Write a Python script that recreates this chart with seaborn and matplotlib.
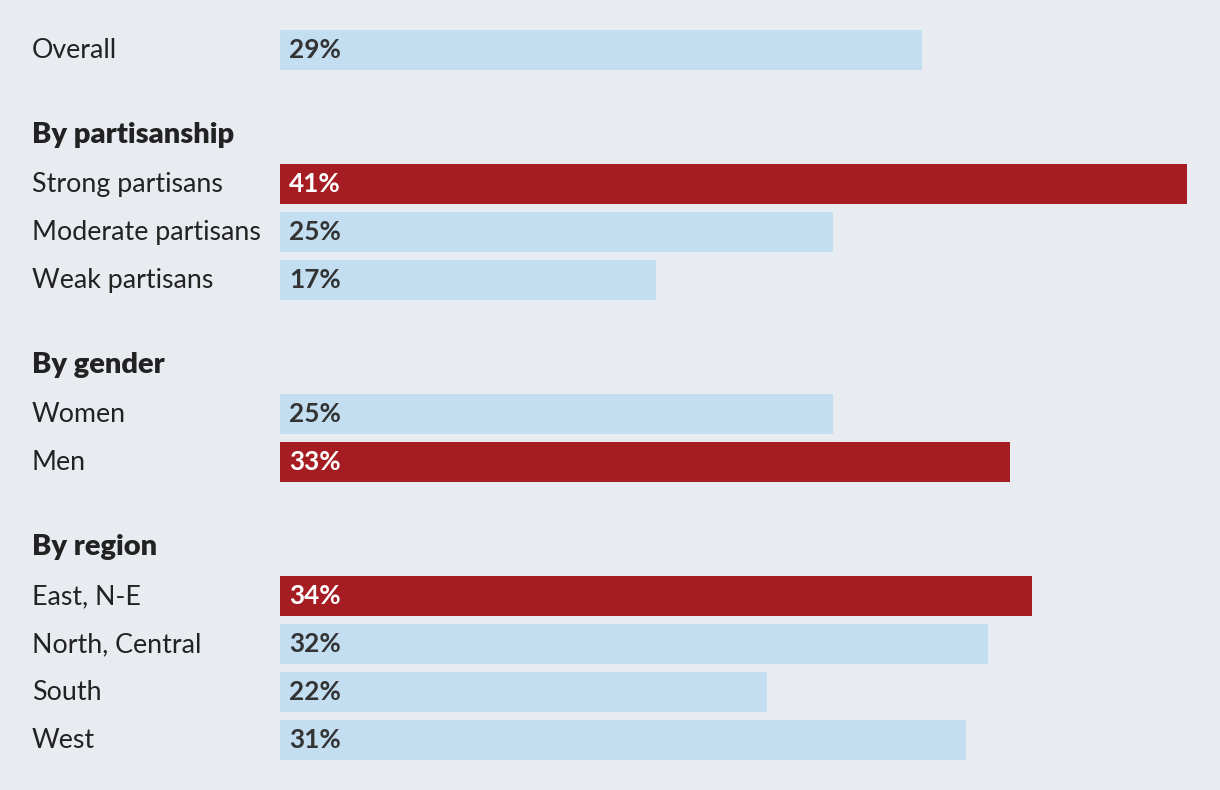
import matplotlib
matplotlib.use("Agg")
import matplotlib.pyplot as plt
import seaborn as sns
import pandas as pd

# ---- data ----
groups = ["", "By partisanship", "By gender", "By region"]
group_members = [
    ["Overall"],
    ["Strong partisans", "Moderate partisans", "Weak partisans"],
    ["Women", "Men"],
    ["East, N-E", "North, Central", "South", "West"],
]
group_values = [
    [29],
    [41, 25, 17],
    [25, 33],
    [34, 32, 22, 31],
]
group_highlight = [
    [False],
    [True, False, False],
    [False, True],
    [True, False, False, False],
]

# ---- style ----
BG = "#e8ebf0"
BLUE = "#c3def0"
RED = "#a51d23"
TXT = "#222222"
VAL_DARK = "#333333"

W, H = 1220, 790
PX_PER_PCT = 22.13
X0 = 280            # pixel where 0% lies
LABEL_X = 32
ROW = 48
GAP = 85

# layout (pixel rows from top)
rows = []
headers = []
y = 50
for gi, (g, mem, vals, hl) in enumerate(zip(groups, group_members, group_values, group_highlight)):
    if g:
        y += GAP
        headers.append((g, y))
        y += ROW + 1
    for j, (m, v, h) in enumerate(zip(mem, vals, hl)):
        if j > 0:
            y += ROW
        rows.append(dict(label=m, value=v, hl="hi" if h else "lo", ypos=y))

df = pd.DataFrame(rows)

sns.set_theme(style="white")
plt.rcParams["font.family"] = ["Lato", "DejaVu Sans"]

fig = plt.figure(figsize=(W / 100, H / 100), dpi=100, facecolor=BG)
ax = fig.add_axes([0, 0, 1, 1])
ax.set_facecolor(BG)

sns.barplot(data=df, x="value", y="ypos", hue="hl", orient="h",
            native_scale=True, dodge=False, width=40 / ROW,
            palette={"hi": RED, "lo": BLUE}, legend=False, ax=ax,
            saturation=1, linewidth=0)

ax.set_xlim(-X0 / PX_PER_PCT, (W - X0) / PX_PER_PCT)
ax.set_ylim(H, 0)
ax.axis("off")

lx = (LABEL_X - X0) / PX_PER_PCT
vx = 9 / PX_PER_PCT
DY = -2
for _, r in df.iterrows():
    ax.text(lx, r["ypos"] + DY, r["label"], ha="left", va="center_baseline",
            fontsize=19.3, color=TXT, fontweight="normal")
    ax.text(vx, r["ypos"] + DY, f"{r['value']}%", ha="left", va="center_baseline",
            fontsize=18.8, fontweight="bold",
            color="white" if r["hl"] == "hi" else VAL_DARK)
for g, yy in headers:
    ax.text(lx, yy + DY, g, ha="left", va="center_baseline",
            fontsize=21, fontweight="heavy", color=TXT)

fig.savefig("out.png", dpi=100, facecolor=BG)
